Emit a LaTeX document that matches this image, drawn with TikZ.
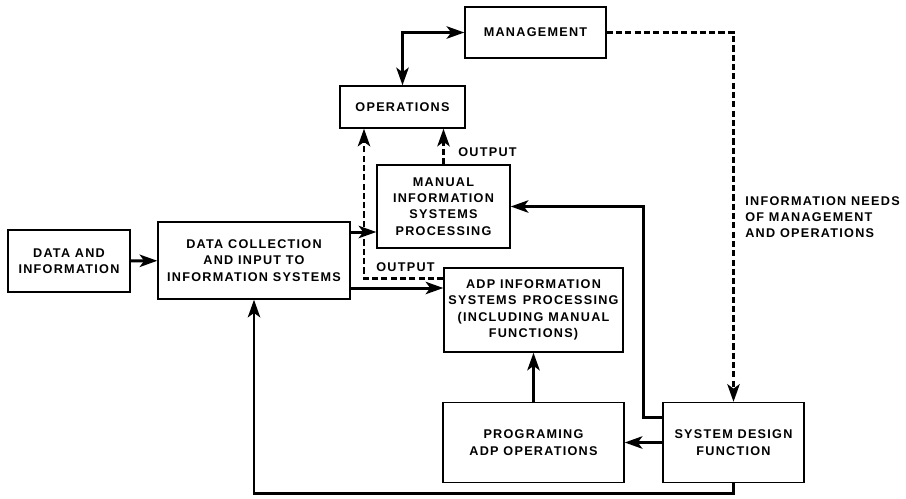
\documentclass[tikz,border=0pt]{standalone}
\usepackage{fontspec}
\setmainfont{Liberation Sans}[LetterSpace=10]
\usetikzlibrary{arrows.meta}

\tikzset{
  box/.style={draw, line width=0.8pt, align=center, inner sep=0pt,
    font=\fontsize{7.2}{9.3}\selectfont\bfseries},
  boxsize/.style 2 args={minimum width=#1, minimum height=#2},
  tip/.style={-{Stealth[length=10pt,width=7pt,inset=2.5pt]}},
  flow/.style={line width=1.7pt, tip},
  dflow/.style={flow, dash pattern=on 3.5pt off 1.8pt},
  lbl/.style={font=\fontsize{7.2}{9.3}\selectfont\bfseries, align=left, inner sep=0pt},
}

\begin{document}
\begin{tikzpicture}[x=0.02cm, y=-0.02cm]
    \useasboundingbox (0,0) rectangle (906,498);

    % Boxes
    \node[box, boxsize={2.44cm}{1.24cm}] (datain) at (69,261) {DATA AND\\INFORMATION};
    \node[box, boxsize={3.84cm}{1.54cm}] (collect) at (254,260.5) {DATA COLLECTION\\AND INPUT TO\\INFORMATION SYSTEMS};
    \node[box, boxsize={2.66cm}{1.66cm}] (manual) at (443.5,206.5) {MANUAL\\INFORMATION\\SYSTEMS\\PROCESSING};
    \node[box, boxsize={3.58cm}{1.68cm}] (adp) at (533.5,310) {ADP INFORMATION\\SYSTEMS\enspace PROCESSING\\(INCLUDING MANUAL\\FUNCTIONS)};
    \node[box, boxsize={2.5cm}{0.84cm}] (oper) at (402.5,107) {OPERATIONS};
    \node[box, boxsize={2.82cm}{1.02cm}] (mgmt) at (535.5,32.5) {MANAGEMENT};
    \node[box, boxsize={3.62cm}{1.6cm}] (prog) at (533.5,442.5) {PROGRAMING\\ADP OPERATIONS};
    \node[box, boxsize={2.82cm}{1.6cm}] (design) at (733.5,442.5) {SYSTEM DESIGN\\FUNCTION};

    % Data flow
    \draw[flow] (datain) -- (collect);
    \draw[flow] (collect.east |- 0,232) -- (manual.west |- 0,232);
    \draw[flow] (collect.east |- 0,288) -- (adp.west |- 0,288);

    % Outputs (dashed)
    \draw[dflow] (adp.west |- 0,278) -| (oper.south west -| 364,0);
    \draw[dflow] (manual.north) -- (manual.north |- oper.south);
    \node[lbl, anchor=west] (out1) at (458,152) {OUTPUT};
    \node[lbl, anchor=west] (out2) at (376,267) {OUTPUT};

    % Management loop
    \draw[flow, {Stealth[length=10pt,width=7pt,inset=2.5pt]}-{Stealth[length=10pt,width=7pt,inset=2.5pt]}] (oper) |- (mgmt);
    \draw[dflow] (mgmt) -| (design);
    \node[lbl, anchor=north west] (needs) at (745,196) {INFORMATION NEEDS\\OF MANAGEMENT\\AND OPERATIONS};

    % System design feedback
    \draw[flow] (design.west |- 0,417) -- (643,417) |- (manual.east);
    \draw[flow] (design) -- (prog);
    \draw[flow] (prog) -- (adp);
    \draw[flow] (design.south) -- ++(0,10) -| (collect.south);
\end{tikzpicture}
\end{document}
